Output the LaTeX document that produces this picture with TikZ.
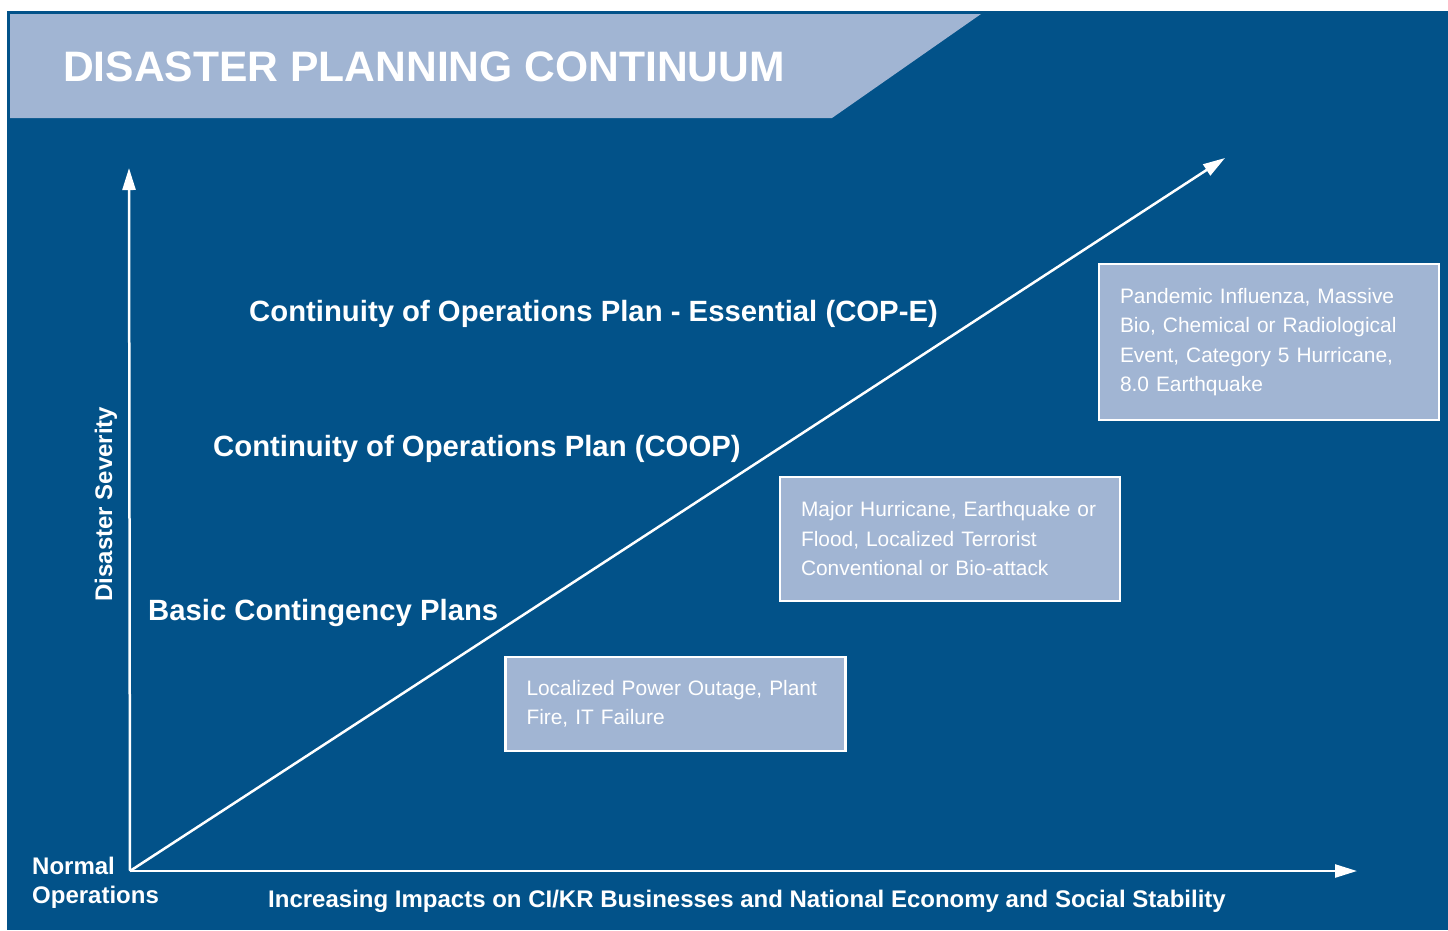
\documentclass[tikz,border=0pt]{standalone}
\usepackage{fontspec}
\setmainfont{Liberation Sans}
\usetikzlibrary{arrows.meta,positioning}

\definecolor{deepblue}{RGB}{2,82,137}
\definecolor{paleblue}{RGB}{161,181,211}

\begin{document}
\begin{tikzpicture}[
    x=1pt, y=-1pt,
    every node/.style={text=white, inner sep=0pt},
    planlabel/.style={anchor=base west, font=\bfseries\fontsize{29.3}{35}\selectfont},
    axislabel/.style={font=\bfseries\fontsize{24}{29}\selectfont},
    eventbox/.style={draw=white, line width=2.5pt, fill=paleblue, minimum width=340pt,
                     text width=298pt, align=left, font=\fontsize{20.9}{29.5}\selectfont},
    axis/.style={white, line width=2.5pt, -{Triangle[length=22pt,width=13pt]}}
    ]

    % Background
    \fill[white] (0,0) rectangle (1448,930);
    \useasboundingbox (0,0) rectangle (1448,930);
    \fill[deepblue] (7,11) rectangle (1448,930);
    \fill[paleblue] (10,14) -- (981,14) -- (832,118) -- (10,118) -- cycle;
    \node (title) [anchor=base west, font=\bfseries\fontsize{42.6}{50}\selectfont] at (63,81) {DISASTER PLANNING CONTINUUM};

    % Axes
    \coordinate (origin) at (130,871);
    \coordinate (severityEnd) at (129,168);
    \coordinate (impactEnd) at (1357,871);
    \coordinate (continuumEnd) at (1225,158);

    \node (severity) [axislabel, anchor=base, rotate=90] at (112,504) {Disaster Severity};
    \node (impact) [axislabel, anchor=base west] at (268,907) {Increasing Impacts on CI/KR Businesses and National Economy and Social Stability};
    \node (normal) [axislabel, align=left, anchor=base west] at (32,903) {Normal\\Operations};

    % Plans
    \node (copE) [planlabel] at (249,321) {Continuity of Operations Plan - Essential (COP-E)};
    \node (coop) [planlabel] at (213,456) {Continuity of Operations Plan (COOP)};
    \node (basic) [planlabel] at (148,620) {Basic Contingency Plans};

    % Events
    \node (localEvent) [eventbox, minimum height=94pt] at (675.5,704) {Localized Power Outage, Plant\\Fire, IT Failure};
    \node (majorEvent) [eventbox, minimum height=124pt] at (950,539) {Major Hurricane, Earthquake or\\Flood, Localized Terrorist\\Conventional or Bio-attack};
    \node (massiveEvent) [eventbox, minimum height=156pt] at (1269,342) {Pandemic Influenza, Massive\\Bio, Chemical or Radiological\\Event, Category 5 Hurricane,\\8.0 Earthquake};

    % Arrows
    \draw[axis] (origin) -- (severityEnd);
    \draw[axis] (origin) -- (impactEnd);
    \draw[axis] (origin) -- (continuumEnd);

\end{tikzpicture}
\end{document}
